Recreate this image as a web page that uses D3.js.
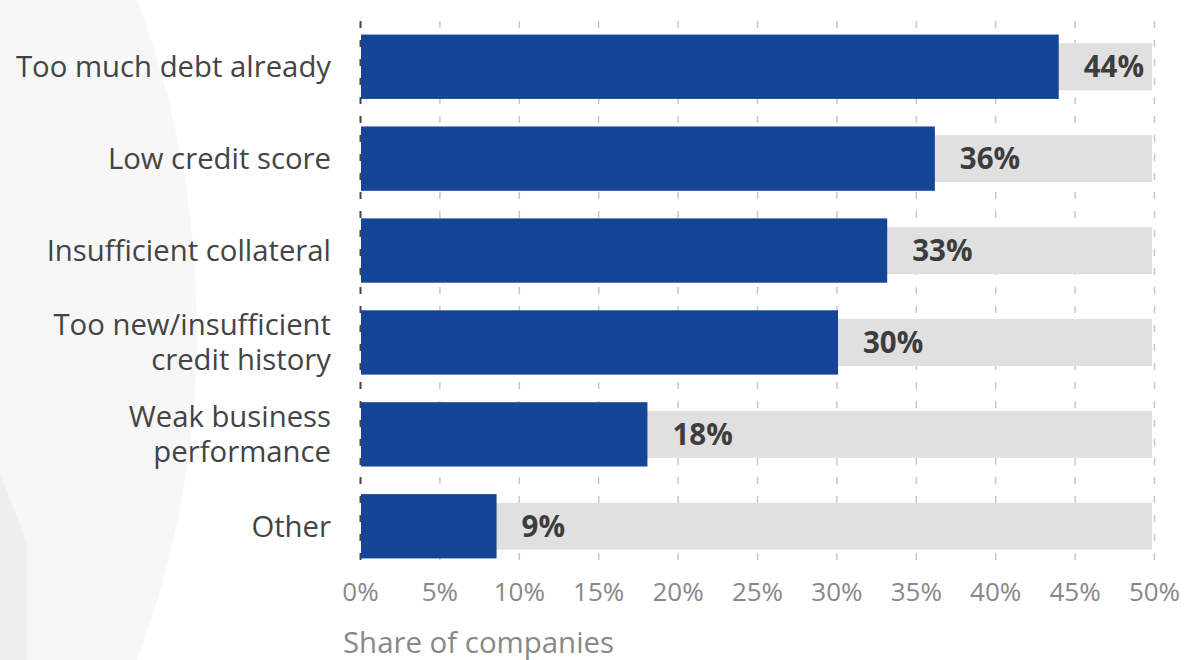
<!DOCTYPE html>
<html>
<head>
<meta charset="utf-8">
<script src="https://cdn.jsdelivr.net/npm/d3@7"></script>
<style>
    html, body { margin: 0; padding: 0; background: #fff; }
    svg { display: block; font-family: "Open Sans", sans-serif; }
</style>
</head>
<body>
<div id="chart"></div>
<script>
// Chart data
let categories = [
    "Too much debt already",
    "Low credit score",
    "Insufficient collateral",
    "Too new/insufficient credit history",
    "Weak business performance",
    "Other"
];
// label lines for the wrapped category names
let categoryLines = [
    ["Too much debt already"],
    ["Low credit score"],
    ["Insufficient collateral"],
    ["Too new/insufficient", "credit history"],
    ["Weak business", "performance"],
    ["Other"]
];
let shares = [44, 36.2, 33.2, 30.1, 18.1, 8.6];
let shareLabels = ["44%", "36%", "33%", "30%", "18%", "9%"];
let ticks = [0, 5, 10, 15, 20, 25, 30, 35, 40, 45, 50];
let axisMax = 50;
let axisTitle = "Share of companies";

let data = categories.map(function(c, i) {
    return {name: c, lines: categoryLines[i], value: shares[i], label: shareLabels[i]};
});

let width = 1184, height = 660;

let svg = d3.select("#chart").append("svg")
    .attr("width", width)
    .attr("height", height);

// Background decoration
svg.append("circle")
    .attr("cx", -740)
    .attr("cy", 330)
    .attr("r", 937)
    .style("fill", "#f7f7f7");
svg.append("path")
    .attr("d", "M0,473 L27,543 L27,660 L0,660 Z")
    .style("fill", "#efefef");

// Scales
let x = d3.scaleLinear().domain([0, axisMax]).range([360, 1154]);
let y = d3.scaleBand()
    .domain(categories)
    .range([7, 586])
    .paddingInner(0.3)
    .paddingOuter(0.3);

let gridTop = 12, gridBottom = 560;

// Grid lines
let grid = svg.append("g")
    .attr("transform", "translate(0," + gridBottom + ")")
    .call(d3.axisBottom(x).tickValues(ticks).tickSize(-(gridBottom - gridTop)).tickFormat(""));
grid.select(".domain").remove();
grid.selectAll(".tick line")
    .style("stroke", function(d) { return d === 0 ? "#444" : "#c8c8c8"; })
    .style("stroke-width", function(d) { return d === 0 ? 2 : 1.5; })
    .style("stroke-dasharray", "7,12");

// Background (max) bars
let bgHeight = 47;
svg.selectAll(".bg-bar")
    .data(data)
    .enter().append("rect")
    .attr("class", "bg-bar")
    .attr("x", x(0) + 1)
    .attr("y", function(d) { return y(d.name) + (y.bandwidth() - bgHeight) / 2; })
    .attr("width", x(axisMax) - x(0) - 3)
    .attr("height", bgHeight)
    .style("fill", "#e0e0e0");

// Value bars
svg.selectAll(".bar")
    .data(data)
    .enter().append("rect")
    .attr("class", "bar")
    .attr("x", x(0) + 1)
    .attr("y", function(d) { return y(d.name); })
    .attr("width", function(d) { return x(d.value) - x(0) - 1; })
    .attr("height", y.bandwidth())
    .style("fill", "#144596");

// Value labels
svg.selectAll(".value")
    .data(data)
    .enter().append("text")
    .attr("class", "value")
    .attr("x", function(d) { return x(d.value) + 25; })
    .attr("y", function(d) { return y(d.name) + y.bandwidth() / 2 + 10.5; })
    .style("font-size", "29.5px")
    .style("font-weight", "bold")
    .style("fill", "#3d3d3d")
    .text(function(d) { return d.label; });

// Category labels
let lineHeight = 35;
let catLabels = svg.selectAll(".cat")
    .data(data)
    .enter().append("text")
    .attr("class", "cat")
    .attr("text-anchor", "end")
    .style("font-size", "29.3px")
    .style("fill", "#444");
catLabels.selectAll("tspan")
    .data(function(d) {
        let n = d.lines.length;
        let mid = y(d.name) + y.bandwidth() / 2;
        return d.lines.map(function(t, i) {
            return {text: t, y: mid + 10.5 + (i - (n - 1) / 2) * lineHeight};
        });
    })
    .enter().append("tspan")
    .attr("x", 331)
    .attr("y", function(d) { return d.y; })
    .text(function(d) { return d.text; });

// X axis tick labels
let xAxis = svg.append("g")
    .attr("transform", "translate(0," + gridBottom + ")")
    .call(d3.axisBottom(x).tickValues(ticks).tickSize(0).tickPadding(0)
        .tickFormat(function(d) { return d + "%"; }));
xAxis.select(".domain").remove();
xAxis.selectAll("text")
    .attr("y", 41)
    .attr("dy", null)
    .style("font-family", "'Open Sans', sans-serif")
    .style("font-size", "26px")
    .style("fill", "#888");

// Axis title
svg.append("text")
    .attr("x", 343)
    .attr("y", 653)
    .style("font-size", "29.4px")
    .style("fill", "#888")
    .text(axisTitle);
</script>
</body>
</html>
